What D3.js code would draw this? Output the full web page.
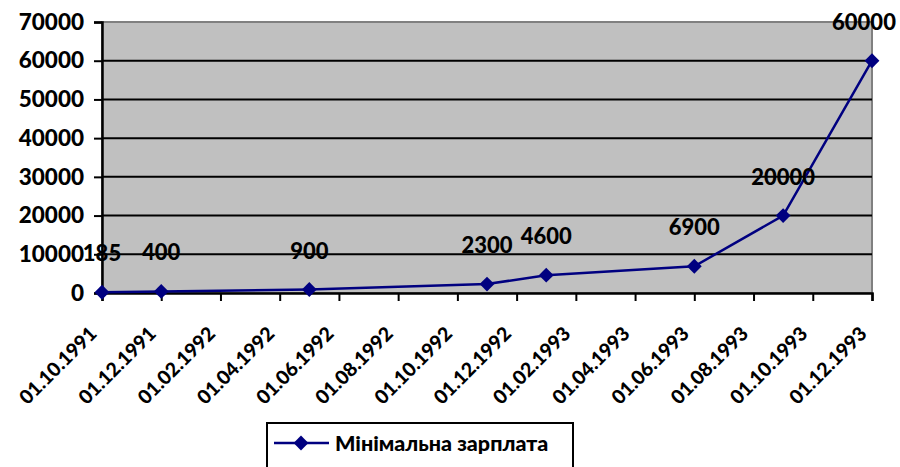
<!DOCTYPE html>
<html>
<head>
<meta charset="utf-8">
<script src="https://cdn.jsdelivr.net/npm/d3@7"></script>
<style>
  html, body { margin: 0; padding: 0; background: #fff; }
  svg { display: block; font-family: Lato, "Open Sans", sans-serif; font-weight: 900; }
</style>
</head>
<body>
<svg id="chart" width="900" height="467"></svg>
<script>
// ---- data ----
const dates = ["01.10.1991", "01.12.1991", "01.05.1992", "01.11.1992", "01.01.1993", "01.06.1993", "01.09.1993", "01.12.1993"];
const wages = [185, 400, 900, 2300, 4600, 6900, 20000, 60000];
const xTickLabels = ["01.10.1991", "01.12.1991", "01.02.1992", "01.04.1992", "01.06.1992", "01.08.1992", "01.10.1992", "01.12.1992", "01.02.1993", "01.04.1993", "01.06.1993", "01.08.1993", "01.10.1993", "01.12.1993"];
const yTicks = [0, 10000, 20000, 30000, 40000, 50000, 60000, 70000];
const seriesName = "Мінімальна зарплата";

// ---- layout ----
const svg = d3.select("#chart");
const margin = { left: 102, right: 28, top: 22, bottom: 174 };
const W = 900, H = 467;
const parse = d3.timeParse("%d.%m.%Y");
const monthIdx = d => d.getFullYear() * 12 + d.getMonth();
const x = d3.scaleLinear()
  .domain([monthIdx(parse(xTickLabels[0])), monthIdx(parse(xTickLabels[xTickLabels.length - 1]))])
  .range([margin.left, W - margin.right]);
const y = d3.scaleLinear().domain([0, 70000]).range([H - margin.bottom, margin.top]);

const x0 = margin.left, x1 = W - margin.right, y0 = y(0), yTop = y(70000);

// plot area
svg.append("rect").attr("x", x0).attr("y", yTop).attr("width", x1 - x0).attr("height", y0 - yTop)
  .attr("fill", "#c0c0c0").attr("stroke", "#808080").attr("stroke-width", 2);

// gridlines
svg.append("g").selectAll("line").data(yTicks.filter(t => t > 0 && t < 70000)).join("line")
  .attr("x1", x0).attr("x2", x1).attr("y1", d => y(d)).attr("y2", d => y(d))
  .attr("stroke", "#000").attr("stroke-width", 2);

// y axis
const yAxis = svg.append("g").attr("transform", `translate(${x0},0)`)
  .call(d3.axisLeft(y).tickValues(yTicks).tickSize(8).tickPadding(10).tickFormat(d3.format("d")));
yAxis.select(".domain").attr("stroke", "#000").attr("stroke-width", 2.5);
yAxis.selectAll(".tick line").attr("stroke", "#000").attr("stroke-width", 2);
yAxis.selectAll(".tick text").attr("font-size", 22.5).attr("font-weight", 900).attr("fill", "#000")
  .attr("font-family", "Lato, sans-serif");

// x axis
const xAxis = svg.append("g").attr("transform", `translate(0,${y0})`)
  .call(d3.axisBottom(x).tickValues(xTickLabels.map(s => monthIdx(parse(s)))).tickSize(8).tickFormat(""));
xAxis.select(".domain").attr("stroke", "#000").attr("stroke-width", 2.5);
xAxis.selectAll(".tick line").attr("stroke", "#000").attr("stroke-width", 2);

svg.append("g").selectAll("text").data(xTickLabels).join("text")
  .attr("transform", d => `translate(${x(monthIdx(parse(d))) - 4},${y0 + 42}) rotate(-45)`)
  .attr("text-anchor", "end")
  .attr("font-size", 19.5).attr("fill", "#000")
  .text(d => d);

// line
const pts = dates.map((d, i) => ({ x: x(monthIdx(parse(d))), y: y(wages[i]), v: wages[i] }));
svg.append("path").datum(pts)
  .attr("d", d3.line().x(d => d.x).y(d => d.y))
  .attr("fill", "none").attr("stroke", "#000080").attr("stroke-width", 2.5);

svg.append("g").selectAll("path").data(pts).join("path")
  .attr("d", d3.symbol().type(d3.symbolSquare).size(110))
  .attr("transform", d => `translate(${d.x},${d.y}) rotate(45)`)
  .attr("fill", "#000080");

// data labels
svg.append("g").selectAll("text").data(pts).join("text")
  .attr("x", d => Math.min(d.x, W - 36))
  .attr("y", d => d.y - 31)
  .attr("text-anchor", "middle")
  .attr("font-size", 22).attr("fill", "#000")
  .text(d => d.v);

// legend
const lg = svg.append("g");
lg.append("rect").attr("x", 267).attr("y", 423).attr("width", 306).attr("height", 50)
  .attr("fill", "#fff").attr("stroke", "#000").attr("stroke-width", 2);
lg.append("line").attr("x1", 274).attr("x2", 329).attr("y1", 443).attr("y2", 443)
  .attr("stroke", "#000080").attr("stroke-width", 2.5);
lg.append("path").attr("transform", "translate(301,443) rotate(45)")
  .attr("d", d3.symbol().type(d3.symbolSquare).size(110)).attr("fill", "#000080");
lg.append("text").attr("x", 335).attr("y", 451).attr("font-size", 21.5).attr("fill", "#000").text(seriesName);
</script>
</body>
</html>
